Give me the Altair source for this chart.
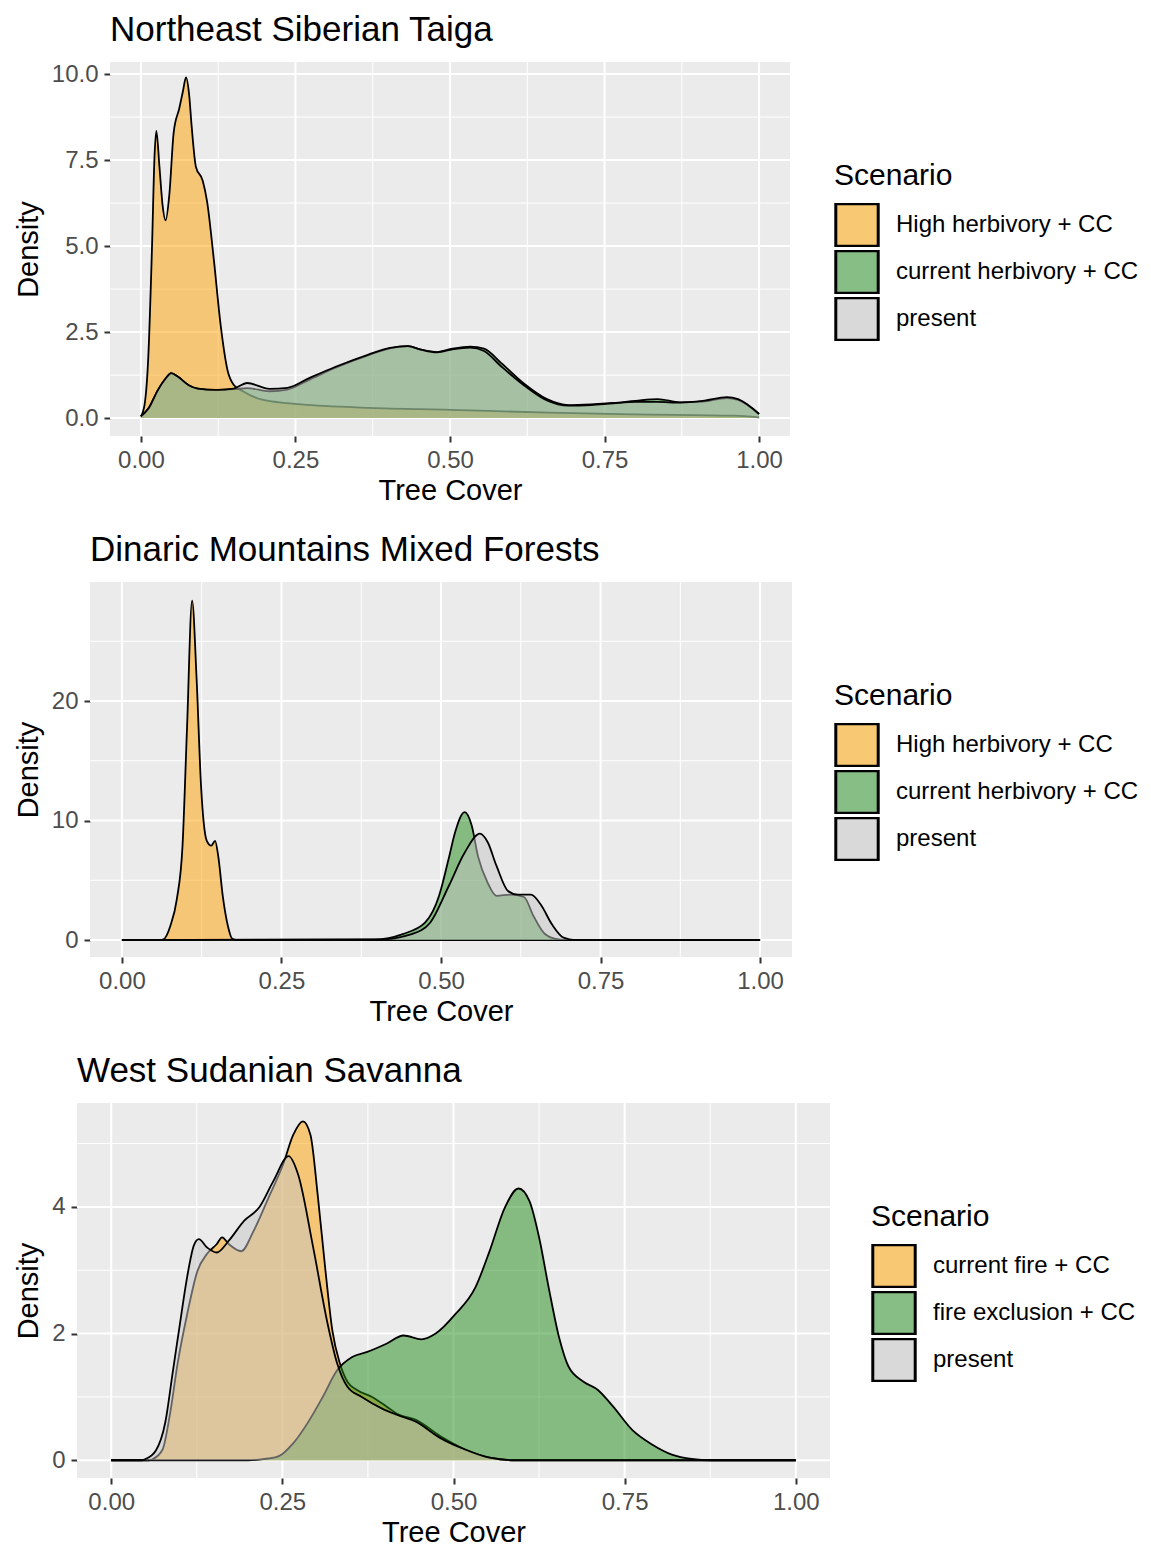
import altair as alt
import pandas as pd

FONT = "Liberation Sans"

# ---------------- data ----------------
# Panel 1: Northeast Siberian Taiga
p1_names = ["High herbivory + CC", "current herbivory + CC", "present"]
p1_high_x = [0, 0.006, 0.012, 0.018, 0.022, 0.025, 0.03, 0.035, 0.04, 0.046, 0.053, 0.062, 0.068, 0.073,
             0.078, 0.082, 0.089, 0.1, 0.107, 0.118, 0.129, 0.14, 0.15, 0.165, 0.2, 0.26, 0.37, 0.5, 0.66,
             0.8, 0.96, 1.0]
p1_high_y = [0.05, 0.4, 1.8, 5.0, 7.6, 8.35, 7.3, 6.2, 5.75, 6.5, 8.3, 9.0, 9.5, 9.9,
             9.4, 8.5, 7.3, 6.9, 6.3, 4.6, 2.7, 1.4, 0.97, 0.78, 0.52, 0.4, 0.3, 0.24, 0.16,
             0.11, 0.07, 0.02]
p1_cur_x = [0, 0.013, 0.027, 0.04, 0.049, 0.06, 0.078, 0.092, 0.121, 0.15, 0.172, 0.208, 0.237, 0.273,
            0.316, 0.367, 0.403, 0.432, 0.453, 0.479, 0.504, 0.533, 0.555, 0.583, 0.62, 0.656, 0.692,
            0.728, 0.764, 0.8, 0.836, 0.872, 0.909, 0.948, 0.966, 1.0]
p1_cur_y = [0.05, 0.3, 0.8, 1.15, 1.31, 1.2, 0.95, 0.86, 0.82, 0.84, 0.87, 0.78, 0.83, 1.12,
            1.47, 1.82, 2.03, 2.09, 1.99, 1.92, 2.02, 2.08, 2.02, 1.6, 1.0, 0.56, 0.38,
            0.40, 0.44, 0.5, 0.55, 0.46, 0.48, 0.58, 0.53, 0.12]
p1_pres_x = p1_cur_x
p1_pres_y = [0.05, 0.3, 0.8, 1.15, 1.31, 1.2, 0.95, 0.86, 0.82, 0.86, 1.02, 0.85, 0.88, 1.17,
             1.5, 1.84, 2.04, 2.09, 1.99, 1.91, 2.0, 2.05, 1.95, 1.5, 0.95, 0.52, 0.36,
             0.38, 0.43, 0.47, 0.47, 0.45, 0.5, 0.61, 0.55, 0.12]

# Panel 2: Dinaric Mountains Mixed Forests
p2_names = ["High herbivory + CC", "current herbivory + CC", "present"]
p2_high_x = [0, 0.06, 0.065, 0.076, 0.086, 0.095, 0.102, 0.110, 0.117, 0.124, 0.133, 0.140, 0.146,
             0.151, 0.158, 0.166, 0.173, 0.18, 1.0]
p2_high_y = [0, 0, 0.05, 1.2, 3.4, 7.9, 17.7, 28.4, 21.9, 12.9, 8.3, 7.9, 8.3,
             7.0, 3.7, 1.2, 0.1, 0, 0]
p2_cur_x = [0, 0.396, 0.44, 0.475, 0.497, 0.512, 0.522, 0.537, 0.548, 0.558, 0.573, 0.587, 0.609,
            0.63, 0.645, 0.663, 0.684, 0.7, 1.0]
p2_cur_y = [0, 0.05, 0.5, 1.45, 3.7, 6.8, 9.0, 10.7, 9.6, 7.0, 4.8, 3.7, 3.8,
            3.6, 2.0, 0.5, 0.05, 0, 0]
p2_pres_x = [0, 0.40, 0.454, 0.483, 0.512, 0.537, 0.561, 0.573, 0.587, 0.605, 0.62, 0.641, 0.656,
             0.674, 0.692, 0.71, 1.0]
p2_pres_y = [0, 0.03, 0.5, 1.45, 4.5, 7.3, 8.9, 8.2, 6.2, 4.1, 3.8, 3.8, 3.0,
             1.3, 0.2, 0, 0]

# Panel 3: West Sudanian Savanna
p3_names = ["current fire + CC", "fire exclusion + CC", "present"]
p3_fire_x = [0, 0.055, 0.061, 0.075, 0.086, 0.097, 0.111, 0.126, 0.14, 0.154, 0.162, 0.172, 0.19,
             0.208, 0.23, 0.251, 0.266, 0.28, 0.291, 0.302, 0.313, 0.323, 0.334, 0.345, 0.359,
             0.381, 0.402, 0.42, 0.445, 0.481, 0.517, 0.553, 0.59, 1.0]
p3_fire_y = [0, 0, 0.02, 0.17, 0.74, 1.53, 2.31, 2.99, 3.26, 3.41, 3.52, 3.41, 3.30,
             3.62, 4.15, 4.67, 5.14, 5.35, 5.14, 4.15, 2.99, 2.05, 1.53, 1.24, 1.11,
             1.0, 0.85, 0.72, 0.64, 0.38, 0.17, 0.04, 0, 0]
p3_excl_x = [0, 0.2, 0.216, 0.244, 0.266, 0.287, 0.309, 0.33, 0.352, 0.374, 0.402, 0.427, 0.453,
             0.474, 0.503, 0.532, 0.553, 0.575, 0.595, 0.611, 0.625, 0.639, 0.654, 0.668, 0.69,
             0.711, 0.733, 0.761, 0.79, 0.819, 0.848, 0.876, 1.0]
p3_excl_y = [0, 0, 0.01, 0.06, 0.27, 0.59, 1.0, 1.42, 1.63, 1.71, 1.84, 1.97, 1.91,
             2.0, 2.31, 2.73, 3.31, 3.99, 4.29, 4.09, 3.52, 2.73, 1.95, 1.48, 1.24,
             1.11, 0.85, 0.48, 0.25, 0.09, 0.02, 0, 0]
p3_pres_x = [0, 0.045, 0.05, 0.065, 0.079, 0.09, 0.101, 0.111, 0.121, 0.128, 0.14, 0.154, 0.172,
             0.194, 0.216, 0.237, 0.259, 0.273, 0.295, 0.316, 0.33, 0.345, 0.366, 0.395, 0.417,
             0.445, 0.481, 0.517, 0.553, 0.59, 1.0]
p3_pres_y = [0, 0, 0.02, 0.15, 0.6, 1.4, 2.2, 2.9, 3.4, 3.49, 3.36, 3.28, 3.47,
             3.78, 3.99, 4.41, 4.8, 4.51, 3.36, 2.16, 1.53, 1.16, 1.0, 0.82, 0.72,
             0.61, 0.35, 0.17, 0.04, 0, 0]

x_major = [0, 0.25, 0.5, 0.75, 1.0]
x_minor = [0.125, 0.375, 0.625, 0.875]

fill_colors = ["#FFA200", "#1F8B15", "#C5C5C5"]     # drawn at 50% opacity
legend_colors = ["#F8C872", "#86BE86", "#D9D9D9"]   # as the keys appear


def panel(title, names, series, width, height, ydom, y_major, y_minor, yfmt, lx, ly):
    xscale = alt.Scale(domain=[-0.05, 1.05], nice=False, zero=False)
    yscale = alt.Scale(domain=ydom, nice=False, zero=False)
    xaxis = alt.Axis(values=x_major, format=".2f", grid=False, domain=False, tickColor="#333333",
                     tickWidth=2, tickSize=6, labelColor="#4D4D4D", labelFontSize=24, labelFont=FONT,
                     labelPadding=6, title="Tree Cover", titleFont=FONT, titleFontSize=29,
                     titleFontWeight="normal", titleColor="black", titlePadding=4)
    yaxis = alt.Axis(values=y_major, format=yfmt, grid=False, domain=False, tickColor="#333333",
                     tickWidth=2, tickSize=6, labelColor="#4D4D4D", labelFontSize=24, labelFont=FONT,
                     labelPadding=6, title="Density", titleFont=FONT, titleFontSize=29,
                     titleFontWeight="normal", titleColor="black", titlePadding=8)
    legend = alt.Legend(orient="none", legendX=lx, legendY=ly, title="Scenario", titleFont=FONT,
                        titleFontSize=30, titleFontWeight="normal", titleColor="black",
                        titlePadding=12, labelFont=FONT, labelFontSize=24, labelColor="black",
                        labelLimit=500, labelOffset=16, symbolType="square", symbolSize=1800,
                        symbolStrokeColor="black", symbolStrokeWidth=3, symbolOpacity=1,
                        clipHeight=44, rowPadding=3)

    gx = pd.DataFrame({"v": x_major})
    gxm = pd.DataFrame({"v": x_minor})
    gy = pd.DataFrame({"v": y_major})
    gym = pd.DataFrame({"v": y_minor})
    layers = [
        alt.Chart(gxm).mark_rule(color="white", strokeWidth=1).encode(
            x=alt.X("v:Q", scale=xscale, axis=xaxis)),
        alt.Chart(gym).mark_rule(color="white", strokeWidth=1).encode(
            y=alt.Y("v:Q", scale=yscale, axis=yaxis)),
        alt.Chart(gx).mark_rule(color="white", strokeWidth=2).encode(
            x=alt.X("v:Q", scale=xscale, axis=xaxis)),
        alt.Chart(gy).mark_rule(color="white", strokeWidth=2).encode(
            y=alt.Y("v:Q", scale=yscale, axis=yaxis)),
    ]
    for name, col, (xs, ys) in zip(names, fill_colors, series):
        df = pd.DataFrame({"x": xs, "y": ys})
        base = alt.Chart(df)
        layers.append(base.mark_area(color=col, fillOpacity=0.5, interpolate="monotone").encode(
            x=alt.X("x:Q", scale=xscale, axis=xaxis),
            y=alt.Y("y:Q", scale=yscale, axis=yaxis),
            y2=alt.datum(0),
        ))
        layers.append(base.mark_line(color="black", strokeWidth=1.8, interpolate="monotone").encode(
            x=alt.X("x:Q", scale=xscale, axis=xaxis),
            y=alt.Y("y:Q", scale=yscale, axis=yaxis),
        ))
    # legend-only layer (its marks sit outside the clipped plot area)
    key_df = pd.DataFrame({"s": names})
    layers.append(alt.Chart(key_df).mark_square(clip=True, filled=True, opacity=1, stroke="black").encode(
        x=alt.datum(-1.0, scale=xscale, axis=xaxis),
        y=alt.datum(ydom[0] - 100, scale=yscale, axis=yaxis),
        color=alt.Color("s:N", scale=alt.Scale(domain=names, range=legend_colors), legend=legend),
    ))
    lay = alt.layer(*layers).properties(
        width=width, height=height,
        view=alt.ViewBackground(fill="#EBEBEB", strokeWidth=0),
        title=alt.TitleParams(title, anchor="start", frame="group", font=FONT, fontSize=35,
                              fontWeight="normal", color="black", offset=13),
    )
    spacer = alt.Chart(pd.DataFrame({"a": [0]})).mark_point(opacity=0).encode(
        x=alt.value(0), y=alt.value(0)
    ).properties(width=1, height=1, view=alt.ViewBackground(fill="white", strokeWidth=0))
    return alt.hconcat(spacer, lay, spacing=0).resolve_scale(color="independent").resolve_legend(
        color="independent")


c1 = panel("Northeast Siberian Taiga", p1_names,
           [(p1_high_x, p1_high_y), (p1_cur_x, p1_cur_y), (p1_pres_x, p1_pres_y)],
           680, 374, [-0.52, 10.35], [0, 2.5, 5, 7.5, 10], [1.25, 3.75, 6.25, 8.75], ".1f", 724, 99)
c2 = panel("Dinaric Mountains Mixed Forests", p2_names,
           [(p2_high_x, p2_high_y), (p2_cur_x, p2_cur_y), (p2_pres_x, p2_pres_y)],
           702, 375, [-1.42, 29.96], [0, 10, 20], [5, 15, 25], "d", 744, 99)
c3 = panel("West Sudanian Savanna", p3_names,
           [(p3_fire_x, p3_fire_y), (p3_excl_x, p3_excl_y), (p3_pres_x, p3_pres_y)],
           753, 375, [-0.28, 5.64], [0, 2, 4], [1, 3, 5], "d", 794, 99)

chart = alt.vconcat(c1, c2, c3, spacing=28).properties(
    padding={"left": 0, "top": 5, "right": 0, "bottom": 0}
).resolve_scale(
    x="independent", y="independent", color="independent"
).resolve_legend(color="independent").configure_view(strokeWidth=0)

chart.save("out.html", embed_options={"renderer": "svg", "actions": False})
